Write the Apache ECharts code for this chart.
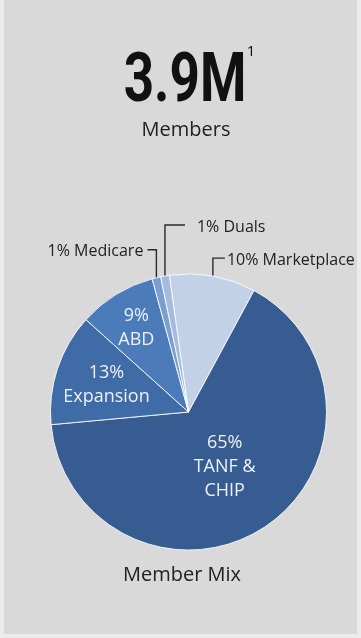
<!DOCTYPE html>
<html>
<head>
<meta charset="utf-8">
<script src="https://cdn.jsdelivr.net/npm/echarts@6/dist/echarts.min.js"></script>
<style>
  html, body { margin: 0; padding: 0; background: #ececec; }
  #chart { width: 361px; height: 638px; }
</style>
</head>
<body>
<div id="chart"></div>
<script>
// Member mix, share of members by program (%)
const categories = ['Marketplace', 'TANF & CHIP', 'Expansion', 'ABD', 'Medicare', 'Duals'];
const shares = [10, 65, 13, 9, 1, 1];
const sliceColors = ['#c3d1e7', '#375c91', '#3f6ba7', '#4b7bb8', '#7a9ed0', '#a3bbdf'];
const headline = '3.9M';
const headlineNote = '1';
const headlineCaption = 'Members';
const chartCaption = 'Member Mix';

// pie geometry in pixels
const CX = 188.5, CY = 412, R = 138;

// small slices get a callout with a hook-shaped leader:
// rise = vertical run above the rim, run = horizontal hook, gap = space before text
const callouts = {
  Medicare:    { rise: 28, run: -9, gap: 4 },
  Duals:       { rise: 51, run: 20, gap: 12 },
  Marketplace: { rise: 18, run: 12, gap: 2 }
};
// radial stretch of the inside labels (1 = half radius)
const reach = { 'TANF & CHIP': 0.91, 'Expansion': 1.2, 'ABD': 1.38 };

const insideLabel = {
  show: true,
  position: 'inside',
  formatter: p => p.value + '%\n' + p.name.replace('& ', '&\n'),
  fontFamily: 'Open Sans',
  fontSize: 18,
  lineHeight: 24,
  color: '#edf1f7'
};
const outsideLabel = {
  show: true,
  position: 'outside',
  formatter: '{c}% {b}',
  fontFamily: 'Open Sans',
  fontSize: 16,
  color: '#222'
};

const pieData = categories.map((name, i) => {
  const out = !!callouts[name];
  return {
    name: name,
    value: shares[i],
    itemStyle: { color: sliceColors[i] },
    label: out ? outsideLabel : insideLabel,
    labelLine: out
      ? { show: true, length: 10, length2: 10, lineStyle: { color: '#2a2a2a', width: 1.4 } }
      : { show: false }
  };
});

const chart = echarts.init(document.getElementById('chart'));
chart.setOption({
  backgroundColor: '#ececec',
  animation: false,
  graphic: [
    { type: 'rect', z: -10, shape: { x: 4, y: 0, width: 353, height: 634 }, style: { fill: '#d9d9d9' } },
    // condensed bold headline (scaled about its own anchor)
    { type: 'text', z: 10, x: 185, y: 84, scaleX: 0.78, originX: 0, originY: 0, style: {
        text: headline, fill: '#111', font: 'bold 68px Roboto, sans-serif',
        align: 'center', verticalAlign: 'middle' } },
    { type: 'text', z: 10, x: 251, y: 52, style: {
        text: headlineNote, fill: '#111', font: '15px "Open Sans", sans-serif',
        align: 'center', verticalAlign: 'middle' } },
    { type: 'text', z: 10, x: 186, y: 130, style: {
        text: headlineCaption, fill: '#222', font: '20px "Open Sans", sans-serif',
        align: 'center', verticalAlign: 'middle' } },
    { type: 'text', z: 10, x: 182, y: 575, style: {
        text: chartCaption, fill: '#222', font: '20px "Open Sans", sans-serif',
        align: 'center', verticalAlign: 'middle' } }
  ],
  series: [{
    type: 'pie',
    center: [CX, CY],
    radius: R,
    startAngle: 98,
    clockwise: true,
    avoidLabelOverlap: false,
    itemStyle: { borderColor: 'rgba(255,255,255,0.85)', borderWidth: 1 },
    emphasis: { scale: false },
    data: pieData,
    labelLayout: function (p) {
      const name = categories[p.dataIndex];
      const c = callouts[name];
      if (c && p.labelLinePoints) {
        const p0 = p.labelLinePoints[0];
        const ly = p0[1] - c.rise;
        const ex = p0[0] + c.run;
        const dir = c.run < 0 ? -1 : 1;
        return {
          x: ex + dir * c.gap,
          y: ly + 2,
          align: dir < 0 ? 'right' : 'left',
          verticalAlign: 'middle',
          labelLinePoints: [[p0[0], p0[1]], [p0[0], ly], [ex, ly]]
        };
      }
      const k = reach[name] || 1;
      const r = p.labelRect;
      const mx = r.x + r.width / 2, my = r.y + r.height / 2;
      return {
        x: CX + (mx - CX) * k,
        y: CY + (my - CY) * k,
        align: 'center',
        verticalAlign: 'middle'
      };
    }
  }]
});
</script>
</body>
</html>
